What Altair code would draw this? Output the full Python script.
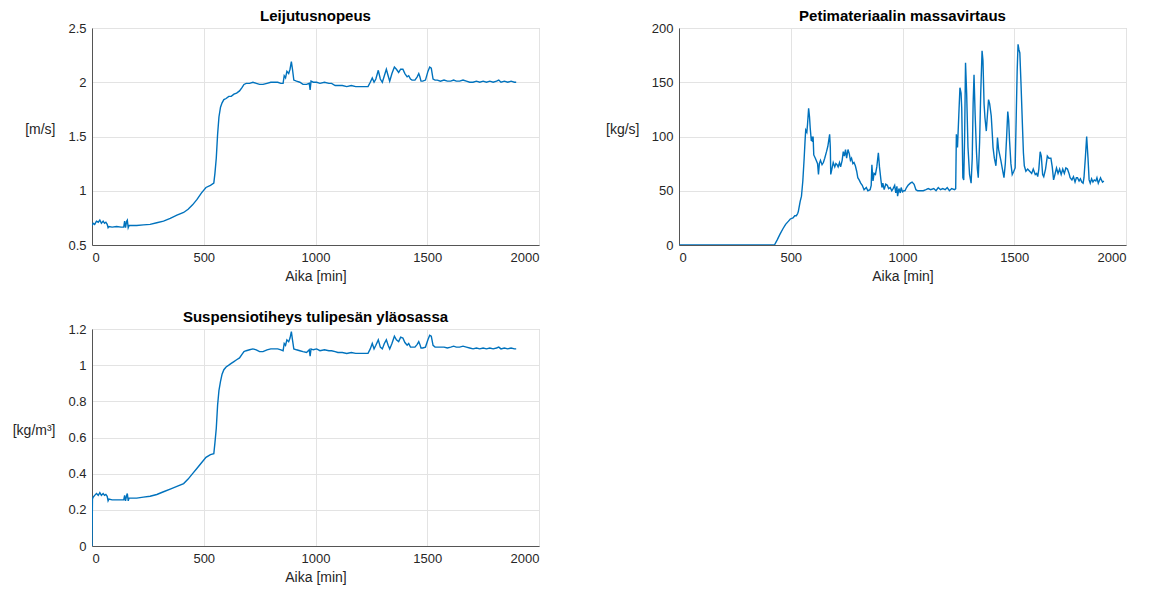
import altair as alt
import pandas as pd

# ---------------- data ----------------
TIME_VEL = [0, 5, 12, 20, 28, 35, 42, 50, 56, 62, 68, 72, 76, 90, 110, 130, 142, 146, 150, 155,
            158, 162, 166, 172, 200, 230, 260, 290, 320, 350, 380, 410, 430, 450, 470, 490, 510, 530, 545, 550,
            556, 562, 568, 575, 582, 590, 600, 612, 623, 635, 647, 660, 671, 680, 690, 705, 720, 735, 750, 765,
            783, 800, 815, 831, 845, 855, 860, 866, 872, 880, 886, 892, 897, 903, 915, 930, 944, 960, 972, 976,
            980, 990, 1005, 1020, 1040, 1060, 1072, 1088, 1100, 1120, 1140, 1160, 1180, 1200, 1220, 1235, 1245, 1254, 1262, 1270,
            1281, 1290, 1299, 1308, 1317, 1325, 1332, 1342, 1353, 1362, 1372, 1381, 1391, 1400, 1410, 1417, 1425, 1432, 1445, 1455,
            1462, 1467, 1472, 1480, 1492, 1503, 1511, 1518, 1526, 1535, 1545, 1559, 1575, 1590, 1605, 1618, 1630, 1645, 1660, 1675,
            1690, 1705, 1720, 1735, 1750, 1765, 1780, 1795, 1810, 1820, 1830, 1845, 1860, 1875, 1890, 1898]
VELOCITY = [0.68, 0.70, 0.69, 0.72, 0.71, 0.73, 0.70, 0.72, 0.70, 0.71, 0.69, 0.66, 0.67, 0.665, 0.67, 0.665, 0.665, 0.72, 0.66, 0.72,
            0.73, 0.66, 0.68, 0.68, 0.68, 0.685, 0.69, 0.705, 0.72, 0.745, 0.775, 0.80, 0.83, 0.87, 0.92, 0.98, 1.03, 1.05, 1.07, 1.16,
            1.30, 1.52, 1.68, 1.77, 1.81, 1.84, 1.85, 1.87, 1.87, 1.89, 1.90, 1.92, 1.95, 1.98, 1.99, 1.99, 2.00, 1.99, 1.98, 1.98,
            1.99, 2.00, 2.00, 2.00, 1.99, 1.99, 2.06, 2.04, 2.10, 2.08, 2.12, 2.19, 2.12, 2.02, 2.01, 2.00, 1.98, 1.98, 1.99, 1.93,
            2.01, 2.00, 2.00, 1.99, 2.00, 1.99, 1.99, 1.97, 1.97, 1.97, 1.96, 1.97, 1.96, 1.96, 1.96, 1.96, 2.00, 2.04, 2.00, 2.03,
            2.11, 2.03, 2.00, 2.06, 2.12, 2.06, 2.01, 2.08, 2.14, 2.12, 2.09, 2.12, 2.12, 2.08, 2.05, 2.06, 2.03, 2.02, 2.02, 2.05,
            2.08, 2.05, 2.01, 2.01, 2.02, 2.10, 2.14, 2.13, 2.03, 2.02, 2.02, 2.01, 2.02, 2.01, 2.01, 2.02, 2.01, 2.01, 2.02, 2.01,
            2.00, 2.00, 2.01, 2.00, 2.01, 2.00, 2.01, 2.00, 2.01, 2.02, 2.00, 2.01, 2.00, 2.01, 2.00, 2.00]

TIME_FLOW = [0, 100, 200, 300, 400, 427, 440, 452, 465, 477, 490, 498, 510, 518, 525, 531, 534, 542, 548, 554,
             560, 564, 567, 572, 575, 580, 584, 587, 592, 595, 597, 600, 603, 610, 616, 620, 624, 628, 633, 640,
             646, 652, 660, 666, 674, 677, 679, 684, 690, 697, 702, 707, 712, 718, 723, 730, 735, 740, 745, 750,
             756, 762, 767, 772, 778, 783, 789, 795, 800, 806, 813, 820, 828, 838, 845, 855, 860, 863, 866, 868,
             873, 879, 885, 892, 897, 904, 908, 912, 918, 925, 932, 938, 945, 952, 958, 965, 970, 975, 978, 984,
             990, 994, 1000, 1006, 1011, 1018, 1025, 1035, 1043, 1052, 1060, 1068, 1080, 1093, 1105, 1115, 1126, 1140, 1150, 1160,
             1170, 1180, 1191, 1200, 1210, 1220, 1233, 1238, 1241, 1246, 1252, 1257, 1262, 1265, 1268, 1270, 1274, 1278, 1282, 1287,
             1293, 1300, 1307, 1312, 1316, 1320, 1325, 1331, 1335, 1339, 1345, 1350, 1356, 1360, 1365, 1369, 1375, 1380, 1385, 1390,
             1397, 1401, 1405, 1411, 1418, 1422, 1425, 1430, 1435, 1440, 1447, 1454, 1460, 1466, 1471, 1475, 1479, 1485, 1491, 1498,
             1504, 1509, 1513, 1517, 1521, 1525, 1530, 1537, 1541, 1545, 1552, 1560, 1569, 1578, 1585, 1594, 1600, 1605, 1610, 1616,
             1621, 1627, 1632, 1640, 1648, 1655, 1664, 1670, 1676, 1682, 1689, 1696, 1703, 1710, 1717, 1724, 1731, 1738, 1745, 1750,
             1758, 1765, 1772, 1778, 1783, 1790, 1796, 1802, 1808, 1812, 1818, 1824, 1830, 1835, 1840, 1846, 1852, 1858, 1865, 1870,
             1876, 1882, 1886, 1890, 1895, 1901]
MASS_FLOW = [0, 0, 0, 0, 0, 0, 5, 10, 15, 19, 22, 24, 25, 27, 27, 29, 31, 40, 45, 59,
             80, 96, 106, 104, 111, 126, 118, 108, 96, 100, 95, 100, 83, 80, 77, 75, 65, 75, 78, 74,
             76, 80, 86, 91, 102, 90, 65, 70, 76, 72, 75, 74, 72, 76, 72, 78, 86, 82, 88, 80,
             88, 84, 78, 80, 75, 76, 73, 68, 62, 60, 57, 55, 51, 53, 50, 51, 55, 74, 65, 59,
             66, 65, 72, 85, 72, 59, 53, 57, 51, 56, 55, 52, 53, 50, 52, 55, 48, 54, 45, 52,
             48, 53, 49, 50, 50, 53, 55, 57, 58, 56, 51, 50, 50, 50, 51, 52, 51, 52, 50, 53,
             51, 52, 51, 53, 50, 52, 51, 52, 102, 90, 120, 145, 140, 126, 90, 62, 60, 100, 168, 140,
             90, 65, 57, 80, 130, 157, 120, 86, 70, 62, 95, 140, 179, 170, 130, 117, 105, 120, 134, 130,
             119, 105, 90, 80, 73, 85, 99, 88, 83, 78, 70, 62, 75, 100, 123, 115, 96, 75, 65, 68,
             71, 120, 160, 185, 180, 177, 150, 108, 85, 73, 68, 70, 68, 66, 70, 65, 66, 63, 70, 86,
             82, 65, 63, 70, 82, 80, 80, 72, 60, 65, 71, 66, 70, 65, 70, 66, 71, 70, 66, 62,
             60, 63, 58, 62, 62, 59, 61, 58, 57, 62, 80, 100, 80, 60, 57, 61, 58, 60, 59, 62,
             57, 60, 62, 60, 58, 59]

TIME_DENS = [0, 2] + TIME_VEL[1:]
DENSITY = [0.0, 0.26, 0.27, 0.28, 0.29, 0.28, 0.295, 0.28, 0.29, 0.28, 0.285, 0.275, 0.25, 0.26, 0.255, 0.255, 0.255, 0.255, 0.28, 0.25,
           0.28, 0.29, 0.25, 0.265, 0.265, 0.265, 0.27, 0.275, 0.285, 0.30, 0.315, 0.33, 0.345, 0.37, 0.40, 0.43, 0.46, 0.49, 0.505, 0.51,
           0.57, 0.65, 0.78, 0.86, 0.91, 0.95, 0.975, 0.99, 1.00, 1.01, 1.02, 1.03, 1.04, 1.06, 1.075, 1.08, 1.085, 1.09, 1.085, 1.075,
           1.075, 1.085, 1.09, 1.09, 1.09, 1.085, 1.08, 1.12, 1.11, 1.14, 1.13, 1.15, 1.185, 1.14, 1.09, 1.085, 1.08, 1.075, 1.07, 1.085,
           1.05, 1.09, 1.085, 1.09, 1.08, 1.085, 1.08, 1.08, 1.075, 1.07, 1.07, 1.065, 1.07, 1.065, 1.065, 1.065, 1.065, 1.09, 1.12, 1.09,
           1.11, 1.14, 1.10, 1.09, 1.12, 1.14, 1.11, 1.09, 1.12, 1.16, 1.14, 1.13, 1.155, 1.15, 1.125, 1.11, 1.12, 1.10, 1.10, 1.10,
           1.115, 1.13, 1.115, 1.095, 1.095, 1.10, 1.14, 1.165, 1.16, 1.11, 1.10, 1.10, 1.10, 1.10, 1.095, 1.10, 1.105, 1.10, 1.10, 1.105,
           1.10, 1.095, 1.09, 1.095, 1.09, 1.095, 1.09, 1.095, 1.09, 1.095, 1.10, 1.09, 1.095, 1.09, 1.095, 1.09, 1.09]

X_TICKS = [0, 500, 1000, 1500, 2000]
VEL_TICKS = [0.5, 1, 1.5, 2, 2.5]
FLOW_TICKS = [0, 50, 100, 150, 200]
DENS_TICKS = [0, 0.2, 0.4, 0.6, 0.8, 1, 1.2]

TITLES = ["Leijutusnopeus", "Petimateriaalin massavirtaus", "Suspensiotiheys tulipesän yläosassa"]
Y_TITLES = ["[m/s]", "[kg/s]", "[kg/m³]"]
X_TITLE = "Aika [min]"

FONT = "Liberation Sans"
LINE = "#0072BD"


def panel(times, values, title, ytitle, ydomain, yticks, title_x):
    df = pd.DataFrame({"t": times, "v": values})
    return (
        alt.Chart(df, title=alt.TitleParams(title, fontSize=15, fontWeight="bold", font=FONT,
                                            color="#000000", offset=-2, anchor="middle",
                                            frame="group"))
        .mark_line(color=LINE, strokeWidth=1.4, clip=True)
        .encode(
            x=alt.X("t:Q", scale=alt.Scale(domain=[0, 2000], nice=False),
                    axis=alt.Axis(values=X_TICKS, labelExpr="'' + datum.value", title=X_TITLE)),
            y=alt.Y("v:Q", scale=alt.Scale(domain=ydomain, nice=False, zero=False),
                    axis=alt.Axis(values=yticks, labelExpr="'' + datum.value", title=ytitle,
                                  titleAngle=0, titleAlign="right", titleBaseline="middle",
                                  titleX=title_x, titleY=101)),
        )
        .properties(width=447, height=217)
    )


p1 = panel(TIME_VEL, VELOCITY, TITLES[0], Y_TITLES[0], [0.5, 2.5], VEL_TICKS, -37)
p2 = panel(TIME_FLOW, MASS_FLOW, TITLES[1], Y_TITLES[1], [0, 200], FLOW_TICKS, -40)
p3 = panel(TIME_DENS, DENSITY, TITLES[2], Y_TITLES[2], [0, 1.2], DENS_TICKS, -37)

chart = (
    alt.concat(p1, p2, p3, columns=2, spacing={"row": 84, "column": 140}, bounds="flush")
    .properties(padding={"left": 3, "top": 0, "right": 0, "bottom": 0}, background="white")
    .configure_axis(
        labelFont=FONT, labelFontSize=13, labelColor="#262626", labelPadding=6,
        titleFont=FONT, titleFontSize=14, titleFontWeight="normal", titleColor="#262626",
        titlePadding=5, grid=True, gridColor="#e3e3e3", gridWidth=1,
        domainColor="#555555", ticks=False,
    )
    .configure_view(stroke="#c4c4c4", strokeWidth=1)
)

chart.save("out.html", embed_options={"renderer": "svg", "actions": False})
